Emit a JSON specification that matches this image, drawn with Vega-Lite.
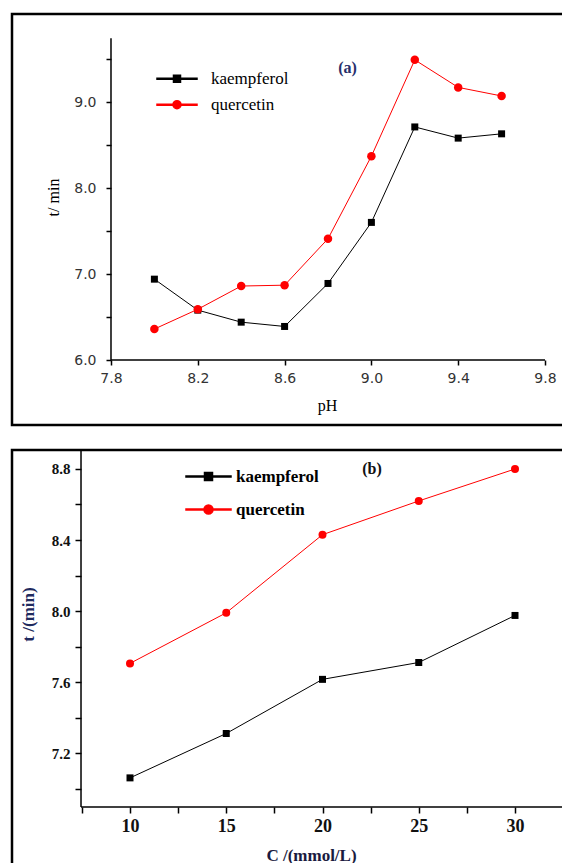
{
  "$schema": "https://vega.github.io/schema/vega-lite/v6.json",
  "padding": {"left": 10, "top": 12, "right": -6, "bottom": -10},
  "spacing": 21,
  "background": "white",
  "config": {
    "view": {"stroke": "black", "strokeWidth": 2.5},
    "axis": {"grid": false, "domain": false},
    "legend": {"labelLimit": 300, "labelFont": "Liberation Serif"}
  },
  "resolve": {
    "scale": {"color": "independent", "shape": "independent", "x": "independent", "y": "independent"},
    "legend": {"color": "independent", "shape": "independent"}
  },
  "datasets": {
    "a": [
      {"x": 8.0, "t": 6.94, "series": "kaempferol"},
      {"x": 8.2, "t": 6.58, "series": "kaempferol"},
      {"x": 8.4, "t": 6.44, "series": "kaempferol"},
      {"x": 8.6, "t": 6.39, "series": "kaempferol"},
      {"x": 8.8, "t": 6.89, "series": "kaempferol"},
      {"x": 9.0, "t": 7.60, "series": "kaempferol"},
      {"x": 9.2, "t": 8.71, "series": "kaempferol"},
      {"x": 9.4, "t": 8.58, "series": "kaempferol"},
      {"x": 9.6, "t": 8.63, "series": "kaempferol"},
      {"x": 8.0, "t": 6.36, "series": "quercetin"},
      {"x": 8.2, "t": 6.59, "series": "quercetin"},
      {"x": 8.4, "t": 6.86, "series": "quercetin"},
      {"x": 8.6, "t": 6.87, "series": "quercetin"},
      {"x": 8.8, "t": 7.41, "series": "quercetin"},
      {"x": 9.0, "t": 8.37, "series": "quercetin"},
      {"x": 9.2, "t": 9.49, "series": "quercetin"},
      {"x": 9.4, "t": 9.17, "series": "quercetin"},
      {"x": 9.6, "t": 9.07, "series": "quercetin"}
    ],
    "b": [
      {"x": 10, "t": 7.06, "series": "kaempferol"},
      {"x": 15, "t": 7.31, "series": "kaempferol"},
      {"x": 20, "t": 7.615, "series": "kaempferol"},
      {"x": 25, "t": 7.71, "series": "kaempferol"},
      {"x": 30, "t": 7.975, "series": "kaempferol"},
      {"x": 10, "t": 7.705, "series": "quercetin"},
      {"x": 15, "t": 7.99, "series": "quercetin"},
      {"x": 20, "t": 8.43, "series": "quercetin"},
      {"x": 25, "t": 8.62, "series": "quercetin"},
      {"x": 30, "t": 8.80, "series": "quercetin"}
    ]
  },
  "vconcat": [
    {
      "width": 556,
      "height": 411,
      "encoding": {
        "x": {
          "type": "quantitative",
          "scale": {"domain": [7.3438, 9.906], "nice": false, "zero": false},
          "axis": {
            "values": [7.8, 8.2, 8.6, 9.0, 9.4, 9.8], "format": ".1f", "offset": -65,
            "domain": false, "grid": false, "tickSize": 5, "tickColor": "black", "tickWidth": 1.5,
            "labelFont": "DejaVu Sans", "labelFontSize": 14, "labelColor": "#333333", "labelPadding": 6,
            "labelOverlap": false, "labelBound": false, "labelFlush": false,
            "title": "pH", "titleFont": "Liberation Serif", "titleFontSize": 16, "titleFontWeight": "normal",
            "titleColor": "black", "titleX": 315, "titleY": 50, "titleBaseline": "alphabetic", "titleAlign": "center"
          }
        },
        "y": {
          "type": "quantitative",
          "scale": {"domain": [5.2442, 10.0233], "nice": false, "zero": false},
          "axis": {
            "values": [6, 6.5, 7, 7.5, 8, 8.5, 9, 9.5],
            "labelExpr": "datum.value % 1 === 0 ? format(datum.value, '.1f') : ''",
            "offset": -99, "domain": false, "grid": false, "tickSize": 5, "tickColor": "black", "tickWidth": 1.5,
            "labelFont": "DejaVu Sans", "labelFontSize": 14, "labelColor": "#333333", "labelPadding": 10,
            "labelOverlap": false, "labelBound": false, "labelFlush": false,
            "title": "t/ min", "titleFont": "Liberation Serif", "titleFontSize": 16, "titleFontWeight": "normal",
            "titleColor": "black", "titleAngle": -90, "titleX": -58, "titleY": 183,
            "titleBaseline": "middle", "titleAlign": "center"
          }
        }
      },
      "layer": [
        {
          "data": {"name": "a"},
          "transform": [{"filter": "datum.t < 0"}],
          "mark": {"type": "point", "filled": true, "opacity": 1},
          "encoding": {
            "x": {"field": "x"},
            "y": {"field": "t"},
            "color": {
              "field": "series", "type": "nominal",
              "scale": {"domain": ["kaempferol", "quercetin"], "range": ["#000000", "#ff0000"]},
              "legend": {
                "orient": "none", "legendX": 154, "legendY": 53.7, "title": null, "padding": 0,
                "symbolSize": 400, "labelOffset": 23, "rowPadding": 7,
                "labelFont": "Liberation Serif", "labelFontSize": 17, "labelFontWeight": "normal", "labelColor": "black"
              }
            },
            "shape": {
              "field": "series", "type": "nominal",
              "scale": {"domain": ["kaempferol", "quercetin"], "range": [
                "M-2,-0.05H2V0.05H-2ZM-0.35,-0.35H0.35V0.35H-0.35Z",
                "M-2,-0.05H2V0.05H-2ZM0.4,0A0.4,0.4,0,1,1,-0.4,0A0.4,0.4,0,1,1,0.4,0Z"
              ]},
              "legend": null
            }
          }
        },
        {
          "data": {"name": "a"},
          "mark": {"type": "line", "strokeWidth": 1},
          "encoding": {
            "x": {"field": "x"},
            "y": {"field": "t"},
            "color": {"field": "series", "type": "nominal", "scale": {"domain": ["kaempferol", "quercetin"], "range": ["#000000", "#ff0000"]}}
          }
        },
        {
          "data": {"name": "a"},
          "transform": [{"filter": "datum.series === 'kaempferol'"}],
          "mark": {"type": "point", "shape": "square", "filled": true, "color": "#000000", "size": 49, "opacity": 1},
          "encoding": {"x": {"field": "x"}, "y": {"field": "t"}}
        },
        {
          "data": {"name": "a"},
          "transform": [{"filter": "datum.series === 'quercetin'"}],
          "mark": {"type": "point", "shape": "circle", "filled": true, "color": "#ff0000", "size": 72, "opacity": 1},
          "encoding": {"x": {"field": "x"}, "y": {"field": "t"}}
        },
        {
          "data": {"values": [{}]},
          "mark": {"type": "rule", "color": "black", "strokeWidth": 1.5},
          "encoding": {"x": {"datum": 7.8}, "x2": {"datum": 9.8}, "y": {"datum": 6}}
        },
        {
          "data": {"values": [{}]},
          "mark": {"type": "rule", "color": "black", "strokeWidth": 1.5},
          "encoding": {"x": {"datum": 7.8}, "y": {"datum": 6}, "y2": {"datum": 9.74}}
        },
        {
          "data": {"values": [{}]},
          "mark": {"type": "text", "text": "(a)", "font": "Liberation Serif", "fontSize": 16, "fontWeight": "bold", "color": "#27306b"},
          "encoding": {"x": {"datum": 8.89}, "y": {"datum": 9.393}}
        }
      ]
    },
    {
      "width": 556,
      "height": 428,
      "encoding": {
        "x": {
          "type": "quantitative",
          "scale": {"domain": [3.870, 32.753], "nice": false, "zero": false},
          "axis": {
            "values": [7.5, 10, 12.5, 15, 17.5, 20, 22.5, 25, 27.5, 30, 32.5],
            "labelExpr": "datum.value % 5 === 0 ? format(datum.value, 'd') : ''",
            "offset": -71, "domain": false, "grid": false, "tickSize": 6, "tickColor": "black", "tickWidth": 1.5,
            "labelFont": "Liberation Serif", "labelFontSize": 18, "labelFontWeight": "bold", "labelColor": "#111111", "labelPadding": 4,
            "labelOverlap": false, "labelBound": false, "labelFlush": false,
            "title": "C /(mmol/L)", "titleFont": "Liberation Serif", "titleFontSize": 17, "titleFontWeight": "bold",
            "titleColor": "#1a1a40", "titleX": 299, "titleY": 53, "titleBaseline": "alphabetic", "titleAlign": "center"
          }
        },
        "y": {
          "type": "quantitative",
          "scale": {"domain": [6.496, 8.907], "nice": false, "zero": false},
          "axis": {
            "values": [7.0, 7.2, 7.4, 7.6, 7.8, 8.0, 8.2, 8.4, 8.6, 8.8],
            "labelExpr": "round(datum.value * 10) % 4 === 0 ? format(datum.value, '.1f') : ''",
            "offset": -69, "domain": false, "grid": false, "tickSize": 6, "tickColor": "black", "tickWidth": 1.5,
            "labelFont": "Liberation Serif", "labelFontSize": 15, "labelFontWeight": "bold", "labelColor": "#111111", "labelPadding": 5,
            "labelOverlap": false, "labelBound": false, "labelFlush": false,
            "title": "t /(min)", "titleFont": "Liberation Serif", "titleFontSize": 17, "titleFontWeight": "bold",
            "titleColor": "#1f2a5e", "titleAngle": -90, "titleX": -53, "titleY": 164,
            "titleBaseline": "middle", "titleAlign": "center"
          }
        }
      },
      "layer": [
        {
          "data": {"name": "b"},
          "transform": [{"filter": "datum.t < 0"}],
          "mark": {"type": "point", "filled": true, "opacity": 1},
          "encoding": {
            "x": {"field": "x"},
            "y": {"field": "t"},
            "color": {
              "field": "series", "type": "nominal",
              "scale": {"domain": ["kaempferol", "quercetin"], "range": ["#000000", "#ff0000"]},
              "legend": {
                "orient": "none", "legendX": 185.5, "legendY": 15.5, "title": null, "padding": 0,
                "symbolSize": 400, "labelOffset": 16.5, "rowPadding": 14,
                "labelFont": "Liberation Serif", "labelFontSize": 17, "labelFontWeight": "bold", "labelColor": "black"
              }
            },
            "shape": {
              "field": "series", "type": "nominal",
              "scale": {"domain": ["kaempferol", "quercetin"], "range": [
                "M-2.25,-0.05H2.25V0.05H-2.25ZM-0.4,-0.4H0.4V0.4H-0.4Z",
                "M-2.25,-0.05H2.25V0.05H-2.25ZM0.45,0A0.45,0.45,0,1,1,-0.45,0A0.45,0.45,0,1,1,0.45,0Z"
              ]},
              "legend": null
            }
          }
        },
        {
          "data": {"name": "b"},
          "mark": {"type": "line", "strokeWidth": 1},
          "encoding": {
            "x": {"field": "x"},
            "y": {"field": "t"},
            "color": {"field": "series", "type": "nominal", "scale": {"domain": ["kaempferol", "quercetin"], "range": ["#000000", "#ff0000"]}}
          }
        },
        {
          "data": {"name": "b"},
          "transform": [{"filter": "datum.series === 'kaempferol'"}],
          "mark": {"type": "point", "shape": "square", "filled": true, "color": "#000000", "size": 49, "opacity": 1},
          "encoding": {"x": {"field": "x"}, "y": {"field": "t"}}
        },
        {
          "data": {"name": "b"},
          "transform": [{"filter": "datum.series === 'quercetin'"}],
          "mark": {"type": "point", "shape": "circle", "filled": true, "color": "#ff0000", "size": 64, "opacity": 1},
          "encoding": {"x": {"field": "x"}, "y": {"field": "t"}}
        },
        {
          "data": {"values": [{}]},
          "mark": {"type": "rule", "color": "black", "strokeWidth": 1.5},
          "encoding": {"x": {"datum": 7.455}, "x2": {"datum": 32.45}, "y": {"datum": 6.896}}
        },
        {
          "data": {"values": [{}]},
          "mark": {"type": "rule", "color": "black", "strokeWidth": 1.5},
          "encoding": {"x": {"datum": 7.455}, "y": {"datum": 6.896}, "y2": {"datum": 8.907}}
        },
        {
          "data": {"values": [{}]},
          "mark": {"type": "text", "text": "(b)", "font": "Liberation Serif", "fontSize": 16, "fontWeight": "bold", "color": "#111111"},
          "encoding": {"x": {"datum": 22.57}, "y": {"datum": 8.8}}
        }
      ]
    }
  ]
}
